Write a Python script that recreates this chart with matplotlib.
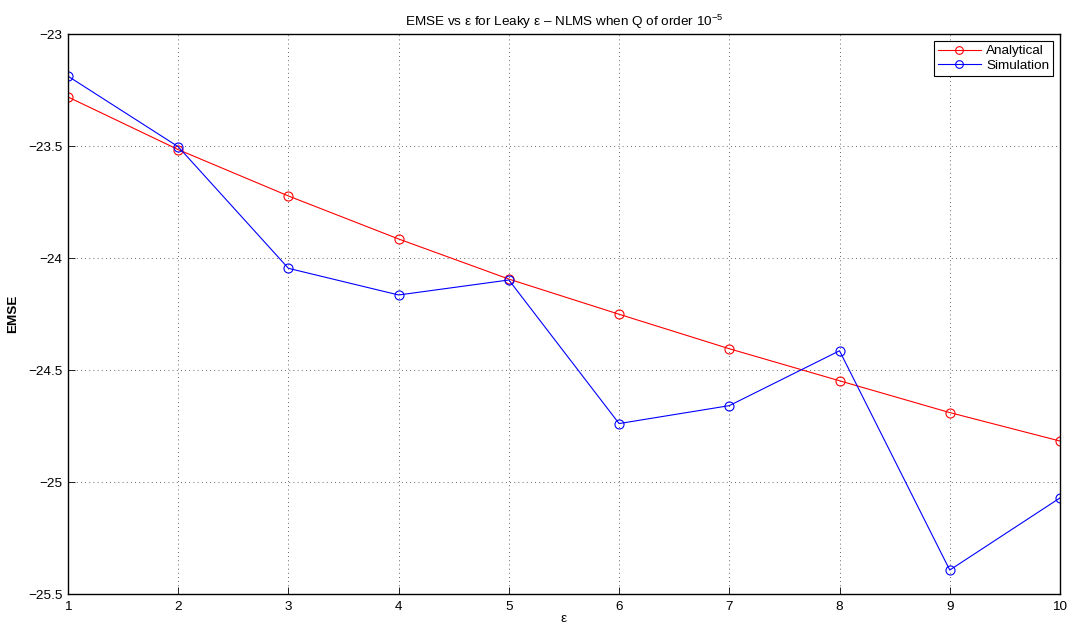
import numpy as np
import matplotlib
matplotlib.use("Agg")
import matplotlib.pyplot as plt

plt.rcParams["font.family"] = ["Liberation Sans", "DejaVu Sans"]
plt.rcParams["mathtext.fontset"] = "custom"
plt.rcParams["mathtext.rm"] = "Liberation Sans"
plt.rcParams["mathtext.it"] = "Liberation Sans:italic"

eps = [1, 2, 3, 4, 5, 6, 7, 8, 9, 10]
emse_analytical = [-23.281, -23.516, -23.723, -23.915, -24.094, -24.251, -24.405, -24.548, -24.690, -24.817]
emse_simulation = [-23.188, -23.503, -24.046, -24.165, -24.098, -24.739, -24.659, -24.414, -25.393, -25.071]

fs = 9.7

fig = plt.figure(figsize=(10.77, 6.3), dpi=100)
ax = fig.add_axes([0.0631, 0.0571, 0.9211, 0.8889])

ax.plot(eps, emse_analytical, color="red", lw=0.8, marker="o", ms=6.5,
        mfc="none", mec="red", mew=0.8, label="Analytical")
ax.plot(eps, emse_simulation, color="blue", lw=0.8, marker="o", ms=6.5,
        mfc="none", mec="blue", mew=0.8, label="Simulation")

ax.set_xlim(1, 10)
ax.set_ylim(-25.5, -23)
ax.set_xticks(eps)
ax.set_yticks(np.arange(-25.5, -22.9, 0.5))
ax.set_yticklabels(["\u221225.5", "\u221225", "\u221224.5", "\u221224", "\u221223.5", "\u221223"])
ax.tick_params(direction="in", length=5, width=0.6, labelsize=fs)
ax.tick_params(axis="x", pad=5)
ax.tick_params(axis="y", pad=4)
ax.grid(True, linestyle=(0, (1, 4)), color="black", linewidth=0.6, alpha=0.8)
for s in ax.spines.values():
    s.set_linewidth(1.0)

ax.set_xlabel("\u03b5", fontsize=fs, labelpad=0)
ax.set_ylabel("EMSE", fontsize=fs, fontweight="bold", labelpad=6)
ax.set_title("EMSE vs \u03b5 for Leaky \u03b5 \u2013 NLMS when Q of order 10$^{\u22125}$",
             fontsize=fs, pad=6)

leg = ax.legend(loc="upper right", fontsize=fs, fancybox=False, framealpha=1,
                edgecolor="black", borderpad=0.3, handlelength=3.2,
                handletextpad=0.4, labelspacing=0.15, borderaxespad=0.5,
                markerscale=0.85)
leg.get_frame().set_linewidth(0.8)

fig.savefig("out.png", dpi=100)
